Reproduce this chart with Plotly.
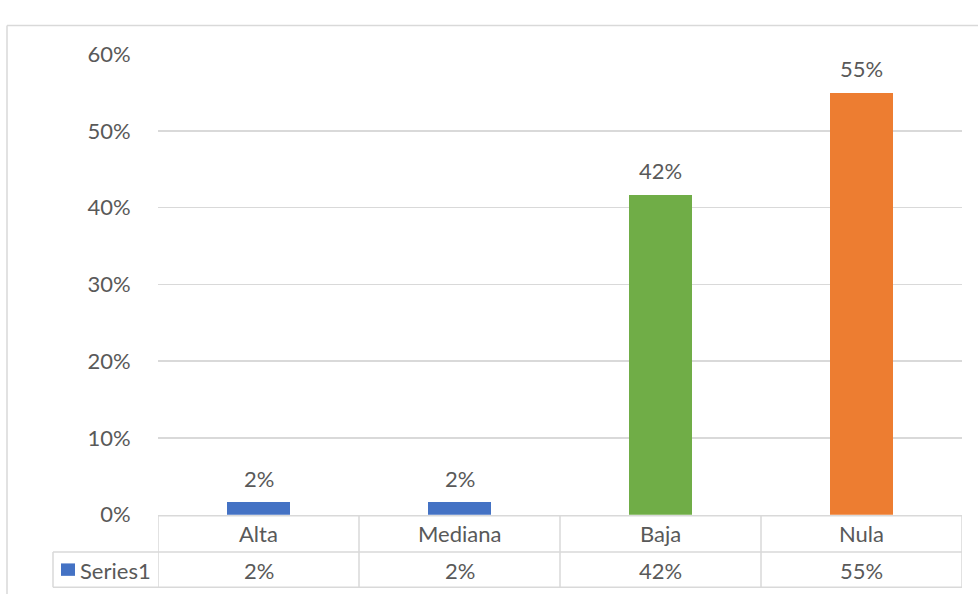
import plotly.graph_objects as go

categories = ["Alta", "Mediana", "Baja", "Nula"]
values = [0.016, 0.016, 0.417, 0.55]
colors = ["#4472C4", "#4472C4", "#70AD47", "#ED7D31"]
series_name = "Series1"
y_ticks = [0, 0.1, 0.2, 0.3, 0.4, 0.5, 0.6]

W, H = 978, 607
TXT = "#595959"
GRID = "#D9D9D9"
FONT = "Lato"
FS = 22


def px(p):
    return p / W


def py(p):
    return 1 - p / H


x_idx = list(range(len(categories)))

fig = go.Figure()
fig.add_trace(go.Bar(
    x=x_idx, y=values, marker=dict(color=colors, line=dict(width=0)),
    width=0.31, showlegend=False, hoverinfo="skip",
))

annotations = []
# data labels
for i, v in zip(x_idx, values):
    annotations.append(dict(
        x=i, y=v, xref="x", yref="y", text=f"{v:.0%}", showarrow=False,
        yanchor="middle", yshift=24, font=dict(family=FONT, size=FS, color=TXT),
    ))
# data table: category names and values
for i, (c, v) in enumerate(zip(categories, values)):
    annotations.append(dict(
        x=i, y=py(544), xref="x", yref="paper", text=c, showarrow=False,
        yanchor="middle", font=dict(family=FONT, size=FS, color=TXT),
    ))
    annotations.append(dict(
        x=i, y=py(582), xref="x", yref="paper", text=f"{v:.0%}", showarrow=False,
        yanchor="middle", font=dict(family=FONT, size=FS, color=TXT),
    ))
annotations.append(dict(
    x=px(78), y=py(582), xref="paper", yref="paper", text=series_name, showarrow=False,
    xanchor="left", yanchor="middle", font=dict(family=FONT, size=FS, color=TXT),
))

shapes = []
line = dict(color=GRID, width=1.5)
# outer chart border
shapes.append(dict(type="line", xref="paper", yref="paper", x0=px(7), x1=px(978), y0=py(12), y1=py(12), line=line))
shapes.append(dict(type="line", xref="paper", yref="paper", x0=px(7), x1=px(7), y0=py(12), y1=py(607), line=line))
# table horizontal lines
shapes.append(dict(type="line", xref="paper", yref="paper", x0=px(158), x1=px(962), y0=py(525), y1=py(525), line=line))
shapes.append(dict(type="line", xref="paper", yref="paper", x0=px(53), x1=px(962), y0=py(563), y1=py(563), line=line))
shapes.append(dict(type="line", xref="paper", yref="paper", x0=px(53), x1=px(962), y0=py(600), y1=py(600), line=line))
# table vertical lines (category boundaries)
for b in [i - 0.5 for i in x_idx] + [len(categories) - 0.5]:
    shapes.append(dict(type="line", xref="x", yref="paper", x0=b, x1=b, y0=py(525), y1=py(600), line=line))
shapes.append(dict(type="line", xref="paper", yref="paper", x0=px(53), x1=px(53), y0=py(563), y1=py(600), line=line))
# legend key
shapes.append(dict(type="rect", xref="paper", yref="paper", x0=px(61), x1=px(75), y0=py(575), y1=py(588),
                   fillcolor=colors[0], line=dict(width=0)))

fig.update_layout(
    width=W, height=H,
    margin=dict(l=0, r=0, t=0, b=0),
    paper_bgcolor="white", plot_bgcolor="white",
    bargap=0, hovermode=False,
    xaxis=dict(domain=[px(158), px(962)], range=[-0.5, len(categories) - 0.5],
               showticklabels=False, showgrid=False, zeroline=False, showline=False, fixedrange=True),
    yaxis=dict(domain=[py(524), py(42)], range=[0, 0.6], tickvals=y_ticks, tickformat=".0%",
               showgrid=True, gridcolor=GRID, gridwidth=1.5, zeroline=False, showline=False,
               ticks="outside", ticklen=22, tickcolor="rgba(0,0,0,0)",
               tickfont=dict(family=FONT, size=FS, color=TXT), fixedrange=True),
    annotations=annotations,
    shapes=shapes,
    font=dict(family=FONT, size=FS, color=TXT),
)

fig.write_html(
    "out.html",
    config={"displayModeBar": False, "staticPlot": True},
    post_script="document.documentElement.style.margin='0';document.body.style.margin='0';"
                "document.body.style.padding='0';document.body.style.overflow='hidden';",
)
